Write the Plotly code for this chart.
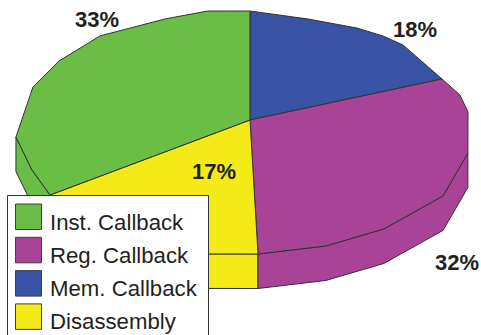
import numpy as np
import plotly.graph_objects as go

# Share of each category, walking clockwise from twelve o'clock
categories = ["Mem. Callback", "Reg. Callback", "Disassembly", "Inst. Callback"]
shares = [18, 32, 17, 33]
colors = ["#3953a4", "#a94397", "#f4ea17", "#6abd45"]
legend_order = ["Inst. Callback", "Reg. Callback", "Mem. Callback", "Disassembly"]

# Faceted rim of the disc: angle in degrees and radial factor of each corner
RIM_ANGLES = [16.0, 30.0, 38.0, 44.9, 73.9, 82.4, 102.3, 123.6, 145.3, 162.2, 192.3,
              253.2, 268.4, 291.0, 304.2, 319.4, 337.4, 349.1]
RIM_RADII = [0.977, 1.001, 1.015, 1.021, 1.030, 1.034, 1.035, 1.050, 1.021, 1.007, 1.006,
             0.991, 1.014, 1.012, 1.013, 1.021, 0.998, 1.012]

# Stretch of the rim whose side wall faces the viewer
WALL_FROM, WALL_TO = 102.3, 268.4

# Perspective camera taking the unit disc to the canvas
CAMERA = np.array([[0.5417, 235.66107, 253.92848],
                   [-119.1308, 4.34808, 130.32749],
                   [0.01788, 0.05508, 1.0]])
HUB = (250, 120)
DEPTH = 34.5
WIDTH, HEIGHT = 481, 335
INK = "#333333"
TEXT = "#231f20"
FONT = "Liberation Sans, Arial, sans-serif"


def project(angle, radius=1.0):
    t = np.radians(angle)
    p = CAMERA @ np.array([radius * np.cos(t), radius * np.sin(t), 1.0])
    return p[0] / p[2], p[1] / p[2]


def corners(start, end):
    inner = [(a, r) for a, r in zip(RIM_ANGLES, RIM_RADII) if start < a < end]
    return [(start, 1.0)] + inner + [(end, 1.0)]


fig = go.Figure()
edges = np.cumsum([0] + shares) * 3.6
slices = [corners(edges[i], edges[i + 1]) for i in range(len(shares))]

# Side wall first, so the top of the disc covers whatever lies behind it
for i in [3, 2, 1]:
    pts = [project(a, r) for a, r in slices[i] if WALL_FROM <= a <= WALL_TO]
    xs = [p[0] for p in pts] + [p[0] for p in reversed(pts)]
    ys = [p[1] for p in pts] + [p[1] + DEPTH for p in reversed(pts)]
    fig.add_trace(go.Scatter(x=xs + xs[:1], y=ys + ys[:1], mode="lines", fill="toself",
                             fillcolor=colors[i], line=dict(color=INK, width=1),
                             hoverinfo="skip", showlegend=False))

for i, name in enumerate(categories):
    pts = [project(a, r) for a, r in slices[i]]
    xs = [HUB[0]] + [p[0] for p in pts] + [HUB[0]]
    ys = [HUB[1]] + [p[1] for p in pts] + [HUB[1]]
    fig.add_trace(go.Scatter(x=xs, y=ys, mode="lines", fill="toself", name=name,
                             fillcolor=colors[i], line=dict(color=INK, width=1),
                             hoverinfo="name", showlegend=False))

# Percentage labels beside their slices
label_spots = {"Mem. Callback": (415, 29), "Reg. Callback": (456.5, 262.5),
               "Disassembly": (214, 171), "Inst. Callback": (96.5, 19.5)}
annotations = [dict(x=label_spots[c][0], y=label_spots[c][1], text=f"<b>{v}%</b>", showarrow=False,
                    font=dict(family=FONT, size=22, color=TEXT), xanchor="center", yanchor="middle")
               for c, v in zip(categories, shares)]

# Legend panel, running off the bottom edge of the canvas
shapes = [dict(type="rect", x0=7.5, x1=208.5, y0=195.5, y1=HEIGHT + 10, fillcolor="white",
               line=dict(color=INK, width=1), layer="above")]
by_name = dict(zip(categories, colors))
for row, name in enumerate(legend_order):
    top = 204 + 33.3 * row
    shapes.append(dict(type="rect", x0=15.5, x1=41.5, y0=top, y1=top + 25.5, fillcolor=by_name[name],
                       line=dict(color="#3f3f3f", width=1), layer="above"))
    annotations.append(dict(x=48, y=top + 18, text=name, showarrow=False,
                            font=dict(family=FONT, size=22.2, color=TEXT), xanchor="left", yanchor="middle"))

fig.update_layout(
    width=WIDTH, height=HEIGHT, margin=dict(l=0, r=0, t=0, b=0),
    paper_bgcolor="white", plot_bgcolor="white", showlegend=False,
    xaxis=dict(range=[0, WIDTH], visible=False, fixedrange=True),
    yaxis=dict(range=[HEIGHT, 0], visible=False, fixedrange=True),
    shapes=shapes, annotations=annotations,
)
fig.write_html("out.html", config=dict(displayModeBar=False))
